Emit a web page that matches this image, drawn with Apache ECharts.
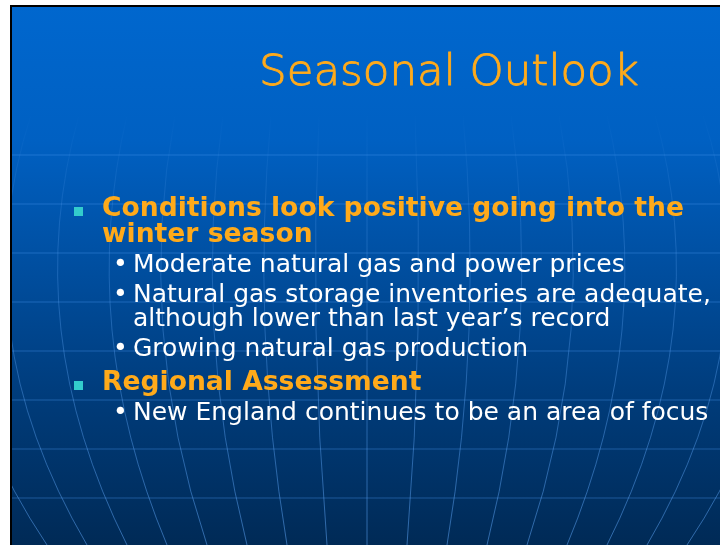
<!DOCTYPE html>
<html>
<head>
<meta charset="utf-8">
<script src="https://cdn.jsdelivr.net/npm/echarts@6/dist/echarts.min.js"></script>
<style>
  html, body { margin: 0; padding: 0; background: #fff; }
  #main { width: 720px; height: 545px; }
</style>
</head>
<body>
<div id="main"></div>
<script>
// slide content
const titleText = 'Seasonal Outlook';
const headings = [
  ['Conditions look positive going into the', 'winter season'],
  ['Regional Assessment']
];
const subItems = [
  [
    ['Moderate natural gas and power prices'],
    ['Natural gas storage inventories are adequate,', 'although lower than last year\u2019s record'],
    ['Growing natural gas production']
  ],
  [
    ['New England continues to be an area of focus']
  ]
];
// background globe grid: meridian indexes and latitude line count
const meridians = [-8, -7, -6, -5, -4, -3, -2, -1, 0, 1, 2, 3, 4, 5, 6, 7, 8];
const latitudes = [0, 1, 2, 3, 4, 5, 6, 7];

const chart = echarts.init(document.getElementById('main'));

const L = 12, T = 7, R = 720, B = 545;
const cx = 367;
const orange = '#FFAA1A';
const font = 'DejaVu Sans';

let els = [];

// background
els.push({
  type: 'rect', z: 0,
  shape: { x: L, y: T, width: R - L, height: B - T },
  style: {
    fill: new echarts.graphic.LinearGradient(0, 0, 0, 1, [
      { offset: 0, color: '#0067CE' },
      { offset: 0.25, color: '#0060C2' },
      { offset: 0.5, color: '#004D9D' },
      { offset: 0.75, color: '#003A77' },
      { offset: 1, color: '#002A56' }
    ])
  }
});

// latitude lines
latitudes.forEach(function (i) {
  const y = 155 + i * 49;
  els.push({
    type: 'line', z: 1,
    shape: { x1: L, y1: y, x2: R, y2: y },
    style: { stroke: 'rgba(70,150,240,0.4)', lineWidth: 1 }
  });
});

// meridians
meridians.forEach(function (k) {
  els.push({
    type: 'bezierCurve', z: 1,
    shape: {
      x1: cx + k * 48, y1: 115,
      cpx1: cx + k * 58, cpy1: 330,
      x2: cx + k * 40, y2: 545
    },
    style: {
      fill: null,
      lineWidth: 1,
      stroke: new echarts.graphic.LinearGradient(0, 0, 0, 1, [
        { offset: 0, color: 'rgba(90,160,240,0)' },
        { offset: 0.25, color: 'rgba(90,160,240,0.25)' },
        { offset: 1, color: 'rgba(90,160,240,0.55)' }
      ])
    }
  });
});

// margins and border
els.push({ type: 'rect', z: 5, shape: { x: 0, y: 0, width: L, height: B }, style: { fill: '#fff' } });
els.push({ type: 'rect', z: 5, shape: { x: 0, y: 0, width: R, height: T }, style: { fill: '#fff' } });
els.push({ type: 'rect', z: 6, shape: { x: 10, y: 5, width: 2, height: B - 5 }, style: { fill: '#000' } });
els.push({ type: 'rect', z: 6, shape: { x: 10, y: 5, width: R - 10, height: 2 }, style: { fill: '#000' } });

function textAt(str, x, baseline, size, color, weight, align, strokeW) {
  els.push({
    type: 'text', z: 10,
    x: x, y: baseline - size * 0.3,
    style: {
      text: str,
      fill: color,
      stroke: strokeW ? color : null,
      lineWidth: strokeW || 0,
      font: weight + ' ' + size + 'px "' + font + '"',
      align: align || 'left',
      verticalAlign: 'middle'
    }
  });
}

// title
textAt(titleText, 449, 87, 43.5, orange, '300', 'center', 0.9);

// bullets
let y = 217;
headings.forEach(function (lines, h) {
  els.push({
    type: 'rect', z: 10,
    shape: { x: 74, y: y - 10, width: 9, height: 9 },
    style: { fill: '#33CCCC' }
  });
  lines.forEach(function (s, i) {
    textAt(s, 102, y, 26.6, orange, 'bold');
    if (i < lines.length - 1) y += 26;
  });
  subItems[h].forEach(function (item) {
    y += 30;
    textAt('\u2022', 113, y, 25, '#fff', 'normal');
    item.forEach(function (s, i) {
      textAt(s, 133, y, 25, '#fff', 'normal');
      if (i < item.length - 1) y += 24;
    });
  });
  y += 34;
});

chart.setOption({
  animation: false,
  graphic: { elements: els }
});
</script>
</body>
</html>
